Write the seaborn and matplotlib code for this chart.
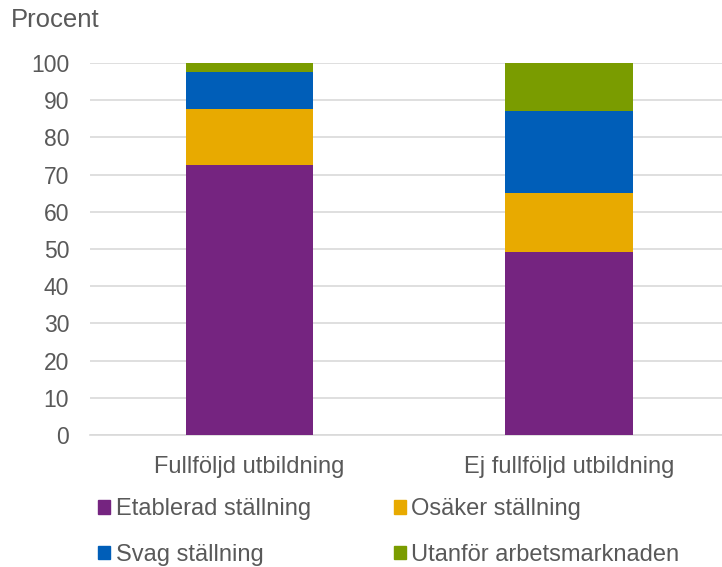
import matplotlib
matplotlib.use('Agg')
import matplotlib.pyplot as plt
from matplotlib.patches import Patch
import seaborn as sns
import pandas as pd
import numpy as np

groups = ['Fullföljd utbildning', 'Ej fullföljd utbildning']
series = ['Etablerad ställning', 'Osäker ställning', 'Svag ställning', 'Utanför arbetsmarknaden']
etablerad = [72.7, 49.1]
osaker = [15.0, 15.9]
svag = [9.9, 22.0]
utanfor = [2.4, 13.0]
colors = ['#752480', '#E8AA00', '#005EB8', '#7A9C00']

sns.set_style('white')
plt.rcParams['font.family'] = ['Liberation Sans', 'DejaVu Sans']
grey = '#595959'

vals = np.array([etablerad, osaker, svag, utanfor])
tops = np.cumsum(vals, axis=0)

fig = plt.figure(figsize=(7.22, 5.67), dpi=100)
ax = fig.add_axes([90/722, 1 - 435/567, 632/722, 372/567])

# draw tallest cumulative first so lower segments overlay
for i in range(len(series) - 1, -1, -1):
    df = pd.DataFrame({'grupp': groups, 'procent': tops[i]})
    sns.barplot(data=df, x='grupp', y='procent', color=colors[i], width=0.4,
                saturation=1, ax=ax, zorder=3, linewidth=0)

ax.set_xlim(-0.5, 1.48)
ax.set_ylim(0, 100)
ax.set_yticks(range(0, 101, 10))
ax.yaxis.grid(True, color='#D9D9D9', linewidth=1.2, zorder=0)
ax.set_axisbelow(True)
for s in ['top', 'right', 'left']:
    ax.spines[s].set_visible(False)
ax.spines['bottom'].set_color('#D9D9D9')
ax.spines['bottom'].set_linewidth(1.2)
ax.tick_params(axis='both', length=0, colors=grey)
ax.tick_params(axis='y', pad=15, labelsize=16.5)
ax.tick_params(axis='x', pad=15, labelsize=17)
ax.set_xlabel('')
ax.set_ylabel('')

fig.text(11/722, 1 - 20/567, 'Procent', fontsize=18.5, color=grey, va='center', ha='left')

handles = [Patch(color=colors[i]) for i in [0, 2, 1, 3]]
labels = [series[i] for i in [0, 2, 1, 3]]
fig.legend(handles, labels, ncol=2, loc='center left', bbox_to_anchor=(77/722, 1 - 532/567),
           frameon=False, fontsize=17, labelcolor=grey, handlelength=0.5, handleheight=0.5,
           handletextpad=0.25, columnspacing=3.5, labelspacing=1.0)

fig.savefig('out.png', dpi=100)
